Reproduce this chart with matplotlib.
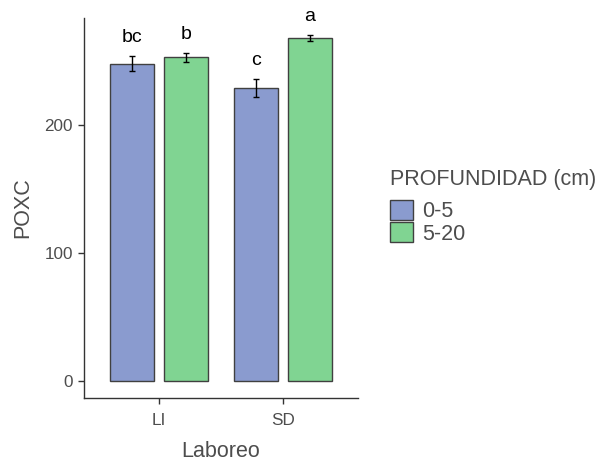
import numpy as np
import matplotlib.pyplot as plt
from matplotlib.patches import Patch

plt.rcParams['font.family'] = ['Liberation Sans', 'DejaVu Sans']

# Data
laboreo = ['LI', 'SD']
profundidad = ['0-5', '5-20']
poxc_0_5 = [248, 229]
poxc_5_20 = [253, 268]
se_0_5 = [6, 7]
se_5_20 = [3.5, 2.5]
letters_0_5 = ['bc', 'c']
letters_5_20 = ['b', 'a']

colors = ['#8A9BCF', '#80D492']
edge = '#404040'
grey = '#4D4D4D'

fig = plt.figure(figsize=(6.01, 4.61), dpi=100)
ax = fig.add_axes([0.1398, 0.1367, 0.4559, 0.8243])

x = np.arange(len(laboreo))
width = 0.355
offs = 0.215

for vals, se, lets, col, sgn in [(poxc_0_5, se_0_5, letters_0_5, colors[0], -1),
                                 (poxc_5_20, se_5_20, letters_5_20, colors[1], 1)]:
    xpos = x + sgn * offs
    ax.bar(xpos, vals, width=width, color=col, edgecolor=edge, linewidth=1.0, zorder=2)
    ax.errorbar(xpos, vals, yerr=se, fmt='none', ecolor='black', elinewidth=1.0,
                capsize=2.5, capthick=1.0, zorder=3)
    for xi, v, s, l in zip(xpos, vals, se, lets):
        ax.text(xi, v + s + 14, l, ha='center', va='center', fontsize=14, color='black')

ax.set_xlim(-0.605, 1.605)
ax.set_ylim(-13.3, 283.6)
ax.set_xticks(x)
ax.set_xticklabels(laboreo)
ax.set_yticks([0, 100, 200])
for s in ['top', 'right']:
    ax.spines[s].set_visible(False)
for s in ['left', 'bottom']:
    ax.spines[s].set_color('#333333')
    ax.spines[s].set_linewidth(1.0)
ax.tick_params(colors='#333333', labelcolor=grey, labelsize=12.3, length=4.5, width=1.0)
ax.tick_params(axis='x', pad=6)
ax.set_xlabel('Laboreo', fontsize=15.5, color=grey, labelpad=10)
ax.set_ylabel('POXC', fontsize=15.5, color=grey, labelpad=8)

# legend: title as separate text, keys below
fig.text(390 / 601, 1 - 180 / 461, 'PROFUNDIDAD (cm)', fontsize=15.5, color=grey,
         ha='left', va='center')
handles = [Patch(facecolor=c, edgecolor=edge, linewidth=1.0) for c in colors]
leg = fig.legend(handles, profundidad, loc='upper left',
                 bbox_to_anchor=(390 / 601, 1 - 200 / 461), frameon=False, fontsize=15.5,
                 handlelength=1.05, handleheight=1.05,
                 handletextpad=0.45, labelspacing=0.0, borderpad=0, borderaxespad=0)
for t in leg.get_texts():
    t.set_color(grey)

fig.savefig('out.png', dpi=100)
